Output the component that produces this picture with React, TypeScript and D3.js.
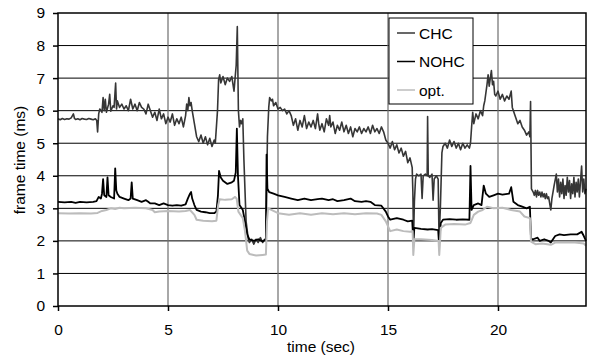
import React, { useEffect, useRef } from 'react';
import * as d3 from 'd3';

// frame time traces, [time (s), frame time (ms)]
const chc: [number, number][] = [
  [0, 5.75], [0.1, 5.72], [0.2, 5.76], [0.3, 5.73], [0.4, 5.75], [0.5, 5.74], [0.6, 5.78], [0.7, 5.9], [0.75, 5.76],
  [0.8, 5.73], [0.9, 5.75], [1.0, 5.72], [1.1, 5.76], [1.2, 5.74], [1.3, 5.73], [1.4, 5.76], [1.5, 5.74], [1.6, 5.72],
  [1.7, 5.75], [1.76, 5.7], [1.8, 5.35], [1.85, 5.9], [1.9, 6.05], [2.0, 5.95], [2.05, 6.4], [2.1, 6.0], [2.15, 6.35],
  [2.2, 5.95], [2.3, 6.2], [2.35, 6.5], [2.4, 5.98], [2.5, 6.15], [2.55, 6.1], [2.62, 6.85], [2.66, 6.05], [2.7, 6.3],
  [2.8, 6.1], [2.9, 6.2], [3.0, 6.05], [3.1, 6.15], [3.2, 6.0], [3.3, 6.35], [3.4, 6.05], [3.5, 6.2], [3.6, 6.0],
  [3.7, 6.25], [3.8, 6.1], [3.9, 6.05], [4.0, 5.9], [4.1, 6.2], [4.2, 6.0], [4.3, 5.8], [4.4, 5.95], [4.5, 5.7],
  [4.6, 6.05], [4.7, 5.75], [4.8, 5.9], [4.9, 5.6], [5.0, 5.8], [5.1, 5.65], [5.2, 5.9], [5.3, 5.55], [5.4, 5.75],
  [5.5, 5.6], [5.6, 5.8], [5.7, 5.5], [5.8, 5.85], [5.85, 6.2], [5.9, 6.0], [5.95, 6.4], [6.0, 6.15], [6.05, 6.25],
  [6.1, 6.0], [6.2, 5.6], [6.3, 5.2], [6.4, 5.05], [6.5, 5.25], [6.6, 5.0], [6.7, 5.2], [6.8, 4.95], [6.9, 5.15],
  [7.0, 4.9], [7.1, 5.1], [7.15, 5.0], [7.25, 6.0], [7.3, 6.95], [7.35, 7.1], [7.4, 6.85], [7.5, 7.05], [7.6, 6.8],
  [7.7, 7.0], [7.8, 6.9], [7.9, 7.05], [8.0, 6.6], [8.05, 7.0], [8.1, 7.4], [8.15, 8.58], [8.2, 6.0], [8.25, 5.5],
  [8.3, 5.7], [8.35, 5.6], [8.4, 5.75], [8.45, 4.5], [8.55, 2.6], [8.65, 2.05], [8.7, 1.95], [8.8, 2.05], [8.9, 1.9],
  [9.0, 2.05], [9.1, 1.95], [9.2, 2.1], [9.3, 1.95], [9.4, 2.05], [9.45, 2.0], [9.52, 5.2], [9.58, 6.1], [9.62, 6.4],
  [9.7, 6.3], [9.75, 6.35], [9.8, 6.15], [9.9, 6.25], [10.0, 6.05], [10.1, 6.1], [10.2, 6.0], [10.3, 6.05], [10.4, 5.9],
  [10.5, 6.0], [10.6, 5.85], [10.7, 5.55], [10.8, 5.75], [10.9, 5.4], [11.0, 5.7], [11.1, 5.5], [11.2, 5.85], [11.3, 5.45],
  [11.4, 5.65], [11.5, 5.5], [11.6, 5.7], [11.7, 5.45], [11.8, 5.9], [11.85, 5.6], [11.9, 5.4], [12.0, 5.6], [12.1, 5.35],
  [12.2, 5.75], [12.3, 5.55], [12.35, 5.85], [12.4, 5.5], [12.5, 5.65], [12.6, 5.3], [12.7, 5.55], [12.8, 5.4], [12.9, 5.65],
  [13.0, 5.35], [13.1, 5.55], [13.2, 5.3], [13.3, 5.5], [13.4, 5.2], [13.5, 5.45], [13.6, 5.35], [13.7, 5.5], [13.8, 5.3],
  [13.9, 5.45], [14.0, 5.35], [14.1, 5.5], [14.2, 5.3], [14.3, 5.55], [14.4, 5.35], [14.5, 5.45], [14.6, 5.3], [14.7, 5.5],
  [14.8, 5.35], [14.9, 5.1], [15.0, 5.0], [15.1, 4.85], [15.2, 5.05], [15.3, 4.8], [15.4, 4.95], [15.5, 4.7], [15.6, 4.85],
  [15.7, 4.6], [15.8, 4.75], [15.9, 4.4], [16.0, 4.55], [16.1, 4.25], [16.13, 3.5], [16.16, 2.05], [16.2, 3.2], [16.25, 3.9],
  [16.3, 4.05], [16.4, 4.0], [16.5, 4.05], [16.55, 3.3], [16.6, 4.0], [16.7, 4.05], [16.78, 4.0], [16.8, 5.82], [16.83, 4.0],
  [16.9, 3.95], [17.0, 4.05], [17.05, 3.25], [17.1, 3.9], [17.2, 4.0], [17.28, 3.9], [17.32, 2.05], [17.38, 3.0], [17.45, 4.7],
  [17.5, 4.9], [17.6, 5.0], [17.7, 4.85], [17.8, 5.1], [17.9, 4.9], [18.0, 5.05], [18.1, 4.85], [18.2, 5.0], [18.3, 4.8],
  [18.4, 5.0], [18.5, 4.85], [18.6, 4.95], [18.7, 4.85], [18.75, 5.0], [18.8, 5.5], [18.85, 5.95], [18.9, 5.6], [19.0, 5.9],
  [19.1, 5.75], [19.2, 6.0], [19.3, 5.85], [19.35, 6.15], [19.4, 6.3], [19.5, 6.8], [19.55, 7.1], [19.6, 6.75], [19.65, 7.0],
  [19.7, 7.23], [19.75, 6.8], [19.8, 6.9], [19.85, 6.5], [19.9, 6.45], [20.0, 6.6], [20.1, 6.35], [20.2, 6.5], [20.3, 6.3],
  [20.4, 6.45], [20.5, 6.35], [20.6, 6.6], [20.65, 6.1], [20.7, 6.0], [20.8, 5.8], [20.9, 5.6], [21.0, 5.7], [21.1, 5.5],
  [21.2, 5.4], [21.3, 5.25], [21.4, 5.35], [21.45, 5.2], [21.48, 6.28], [21.52, 3.6], [21.6, 3.5], [21.65, 3.4], [21.7, 3.55],
  [21.75, 3.35], [21.8, 3.55], [21.85, 3.4], [21.9, 3.5], [21.95, 3.35], [22.0, 3.5], [22.05, 3.35], [22.1, 3.45], [22.15, 3.3],
  [22.2, 3.45], [22.25, 3.3], [22.3, 3.35], [22.4, 2.95], [22.45, 3.3], [22.55, 3.7], [22.65, 4.05], [22.7, 3.5], [22.75, 3.9],
  [22.8, 3.35], [22.85, 3.8], [22.9, 3.45], [22.95, 3.9], [23.0, 3.3], [23.05, 3.7], [23.1, 3.4], [23.15, 3.95], [23.2, 3.5],
  [23.25, 3.85], [23.3, 3.3], [23.35, 3.75], [23.4, 3.45], [23.45, 3.95], [23.5, 3.35], [23.55, 3.8], [23.6, 3.5], [23.65, 3.9],
  [23.7, 3.35], [23.8, 4.3], [23.85, 3.5], [23.9, 3.9], [23.95, 3.45], [24.0, 3.6],
];

const nohc: [number, number][] = [
  [0, 3.2], [0.3, 3.18], [0.6, 3.2], [0.8, 3.17], [1.0, 3.2], [1.3, 3.18], [1.6, 3.2], [1.75, 3.22], [1.85, 3.35],
  [1.95, 3.3], [2.0, 3.45], [2.05, 3.9], [2.1, 3.4], [2.2, 3.35], [2.25, 3.95], [2.3, 3.4], [2.4, 3.35], [2.55, 3.3],
  [2.6, 4.23], [2.65, 3.55], [2.7, 3.45], [2.8, 3.35], [3.0, 3.3], [3.2, 3.25], [3.3, 3.3], [3.35, 3.8], [3.4, 3.3],
  [3.6, 3.25], [3.8, 3.2], [4.0, 3.25], [4.1, 3.2], [4.2, 3.15], [4.4, 3.15], [4.6, 3.1], [4.8, 3.15], [5.0, 3.1],
  [5.2, 3.08], [5.4, 3.1], [5.6, 3.08], [5.8, 3.12], [5.9, 3.3], [6.0, 3.45], [6.05, 3.5], [6.1, 3.3], [6.2, 3.1],
  [6.3, 2.95], [6.5, 2.9], [6.7, 2.88], [6.9, 2.85], [7.1, 2.85], [7.2, 2.9], [7.27, 3.4], [7.32, 4.15], [7.4, 3.95],
  [7.5, 3.85], [7.7, 3.75], [7.9, 3.8], [8.0, 3.85], [8.08, 4.1], [8.13, 5.45], [8.18, 4.0], [8.25, 3.1], [8.35, 3.0],
  [8.4, 2.95], [8.5, 2.6], [8.6, 2.2], [8.7, 2.05], [8.9, 2.0], [9.1, 2.05], [9.3, 1.98], [9.45, 2.05], [9.48, 4.65],
  [9.52, 3.6], [9.6, 3.5], [9.8, 3.45], [10.0, 3.4], [10.3, 3.35], [10.6, 3.3], [10.9, 3.25], [11.2, 3.3], [11.5, 3.25],
  [11.8, 3.28], [12.0, 3.3], [12.3, 3.25], [12.5, 3.28], [12.7, 3.22], [13.0, 3.25], [13.3, 3.3], [13.5, 3.22], [13.8, 3.2],
  [14.0, 3.22], [14.2, 3.2], [14.4, 3.1], [14.7, 3.08], [14.9, 2.9], [15.0, 2.75], [15.1, 2.65], [15.4, 2.7], [15.7, 2.65],
  [15.9, 2.6], [16.1, 2.62], [16.15, 2.0], [16.2, 2.4], [16.5, 2.37], [16.8, 2.35], [17.0, 2.36], [17.28, 2.33], [17.32, 1.9],
  [17.4, 2.55], [17.5, 2.65], [17.8, 2.67], [18.1, 2.65], [18.4, 2.66], [18.7, 2.65], [18.75, 4.3], [18.8, 2.95], [18.9, 3.1],
  [19.1, 3.15], [19.25, 3.1], [19.35, 3.7], [19.45, 3.45], [19.6, 3.35], [19.8, 3.4], [20.0, 3.45], [20.2, 3.42], [20.5, 3.45],
  [20.6, 3.65], [20.7, 3.2], [20.9, 3.1], [21.1, 3.05], [21.3, 3.0], [21.45, 3.05], [21.5, 2.05], [21.6, 2.05], [21.8, 2.1],
  [21.9, 2.0], [22.1, 2.05], [22.3, 2.0], [22.4, 1.95], [22.6, 2.15], [22.8, 2.2], [23.0, 2.18], [23.3, 2.2], [23.6, 2.2],
  [23.8, 2.28], [23.9, 2.15], [24.0, 2.0],
];

const opt: [number, number][] = [
  [0, 2.85], [0.5, 2.84], [1.0, 2.85], [1.5, 2.84], [1.8, 2.86], [2.0, 2.92], [2.2, 2.95], [2.4, 3.0], [2.6, 2.98],
  [2.8, 3.02], [3.0, 3.0], [3.5, 3.02], [4.0, 3.0], [4.3, 2.95], [4.4, 2.88], [4.6, 2.9], [5.0, 2.92], [5.5, 2.9],
  [5.8, 2.92], [6.0, 2.95], [6.2, 2.8], [6.3, 2.65], [6.6, 2.62], [7.0, 2.6], [7.2, 2.62], [7.28, 3.1], [7.35, 3.28],
  [7.6, 3.26], [7.9, 3.28], [8.05, 3.35], [8.12, 3.3], [8.2, 2.9], [8.3, 2.8], [8.4, 2.7], [8.5, 2.3], [8.6, 1.7],
  [8.7, 1.6], [9.0, 1.55], [9.3, 1.57], [9.45, 1.58], [9.5, 2.6], [9.55, 3.0], [9.7, 2.95], [10.0, 2.85], [10.5, 2.8],
  [11.0, 2.85], [11.5, 2.8], [12.0, 2.85], [12.5, 2.82], [13.0, 2.85], [13.5, 2.82], [14.0, 2.85], [14.5, 2.84], [14.7, 2.8],
  [14.9, 2.6], [15.1, 2.3], [15.4, 2.35], [15.7, 2.3], [16.0, 2.28], [16.12, 2.3], [16.15, 1.57], [16.2, 2.05], [16.5, 2.05],
  [17.0, 2.03], [17.3, 2.0], [17.33, 1.57], [17.4, 2.4], [17.6, 2.5], [18.0, 2.52], [18.5, 2.5], [18.75, 2.55], [18.9, 2.8],
  [19.1, 2.9], [19.3, 2.95], [19.5, 3.05], [19.8, 3.0], [20.2, 3.02], [20.6, 2.95], [21.0, 2.9], [21.2, 2.75], [21.45, 2.7],
  [21.5, 1.98], [21.7, 1.9], [22.0, 1.92], [22.4, 1.88], [22.6, 1.95], [23.0, 1.95], [23.5, 1.95], [23.9, 1.92], [24.0, 1.85],
];

const seriesNames = ['CHC', 'NOHC', 'opt.'];
const seriesColors = ['#363636', '#000000', '#bcbcbc'];
const seriesWidths = [1.6, 1.8, 2];
const xTicks = [0, 5, 10, 15, 20];
const yTicks = [0, 1, 2, 3, 4, 5, 6, 7, 8, 9];

const W = 590;
const H = 361;
const FONT = 'Liberation Sans, Arial, sans-serif';

export default function App() {
  const svgRef = useRef<SVGSVGElement>(null);

  useEffect(() => {
    const svg = d3.select(svgRef.current);
    svg.selectAll('*').remove();

    const x = d3.scaleLinear().domain([0, 24]).range([58, 586]);
    const y = d3.scaleLinear().domain([0, 9]).range([306, 13]);

    // grid
    svg.append('g')
      .selectAll('line')
      .data(yTicks.slice(1, -1))
      .enter().append('line')
      .attr('x1', 58).attr('x2', 586)
      .attr('y1', d => y(d)).attr('y2', d => y(d))
      .attr('stroke', '#000').attr('stroke-width', 1);

    svg.append('g')
      .selectAll('line')
      .data(xTicks.slice(1))
      .enter().append('line')
      .attr('y1', 13).attr('y2', 306)
      .attr('x1', d => x(d)).attr('x2', d => x(d))
      .attr('stroke', '#6e6e6e').attr('stroke-width', 1.2);

    // traces
    const line = d3.line<[number, number]>()
      .x(d => x(d[0]))
      .y(d => y(d[1]));

    [chc, nohc, opt].forEach((s, i) => {
      svg.append('path')
        .datum(s)
        .attr('fill', 'none')
        .attr('stroke', seriesColors[i])
        .attr('stroke-width', seriesWidths[i])
        .attr('stroke-linejoin', 'round')
        .attr('d', line);
    });

    // frame
    svg.append('rect')
      .attr('x', 58).attr('y', 13)
      .attr('width', 528).attr('height', 293)
      .attr('fill', 'none')
      .attr('stroke', '#000').attr('stroke-width', 1.5);

    // axes
    const yAxis = svg.append('g').attr('transform', 'translate(58,0)');
    yAxis.call(
      d3.axisLeft(y).tickValues(d3.range(0, 9.01, 0.2)).tickSize(5).tickFormat(() => '').tickSizeOuter(0)
    );
    yAxis.call(
      d3.axisLeft(y).tickValues(yTicks).tickSize(5).tickPadding(8).tickSizeOuter(0)
    );
    const xAxis = svg.append('g').attr('transform', 'translate(0,306)');
    xAxis.call(
      d3.axisBottom(x).tickValues(d3.range(0, 25, 1)).tickSize(5).tickFormat(() => '').tickSizeOuter(0)
    );
    xAxis.call(
      d3.axisBottom(x).tickValues(xTicks).tickSize(5).tickPadding(13).tickSizeOuter(0)
    );
    svg.selectAll('.domain').remove();
    svg.selectAll('.tick line').attr('stroke', '#000').attr('stroke-width', 1.5);
    svg.selectAll('.tick text')
      .attr('fill', '#000')
      .style('font-family', FONT)
      .style('font-size', '15.5px');

    // axis titles
    svg.append('text')
      .attr('x', 321).attr('y', 352)
      .attr('text-anchor', 'middle')
      .style('font-family', FONT).style('font-size', '15.5px')
      .text('time (sec)');

    svg.append('text')
      .attr('transform', 'translate(25,160) rotate(-90)')
      .attr('text-anchor', 'middle')
      .style('font-family', FONT).style('font-size', '15.5px')
      .text('frame time (ms)');

    // legend
    const legend = svg.append('g');
    legend.append('rect')
      .attr('x', 389).attr('y', 18)
      .attr('width', 84).attr('height', 86)
      .attr('fill', '#fff')
      .attr('stroke', '#000').attr('stroke-width', 1);

    seriesNames.forEach((name, i) => {
      const ly = 33 + i * 28.5;
      legend.append('line')
        .attr('x1', 397).attr('x2', 415)
        .attr('y1', ly).attr('y2', ly)
        .attr('stroke', seriesColors[i])
        .attr('stroke-width', Math.min(seriesWidths[i], 1.5));
      legend.append('text')
        .attr('x', 419).attr('y', ly + 5.5)
        .style('font-family', FONT).style('font-size', '15.5px')
        .text(name);
    });
  }, []);

  return (
    <div style={{ position: 'absolute', left: 0, top: 0 }}>
      <svg ref={svgRef} width={W} height={H} style={{ display: 'block', background: '#fff' }} />
    </div>
  );
}
